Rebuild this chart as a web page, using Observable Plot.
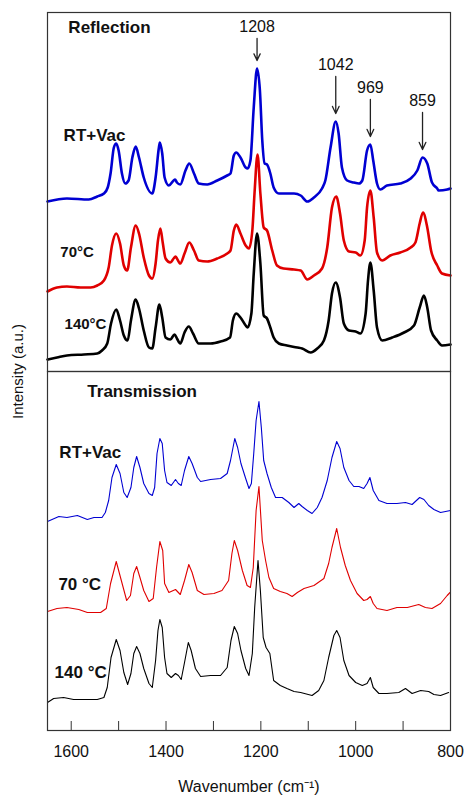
<!DOCTYPE html>
<html>
<head>
<meta charset="utf-8">
<script src="https://cdn.jsdelivr.net/npm/d3@7"></script>
<script src="https://cdn.jsdelivr.net/npm/@observablehq/plot@0.6"></script>
<style>
  html, body { margin: 0; padding: 0; background: #fff; }
  #chart { width: 464px; height: 797px; }
</style>
</head>
<body>
<div id="chart"></div>
<script>
// Panels and spectra keys
const panels = ["Reflection", "Transmission"];
const seriesKeys = ["RT+Vac", "70", "140"];
const seriesColors = ["#0000d2", "#e00000", "#000000"];
const reflectionLabels = ["RT+Vac", "70°C", "140°C"];
const transmissionLabels = ["RT+Vac", "70 °C", "140 °C"];

// x axis ticks (cm⁻¹)
const wavenumberTicks = [1600, 1500, 1400, 1300, 1200, 1100, 1000, 900, 800];
const wavenumberLabels = [1600, 1400, 1200, 1000, 800];

// Labelled reflection bands (cm⁻¹)
const bandLabels = [1208, 1042, 969, 859];

// Spectra: [wavenumber (cm⁻¹), intensity (a.u., stacked)]
const reflectionRTVac = [[1650,1.70],[1609,1.73],[1563,1.72],[1545,1.75],[1531,1.78],[1523,1.84],[1517,1.98],[1510,2.24],[1505,2.28],[1500,2.21],[1493,1.98],[1486,1.88],[1479,1.91],[1471,2.14],[1464,2.25],[1457,2.14],[1447,1.94],[1429,1.78],[1422,1.94],[1415,2.24],[1413,2.29],[1408,2.18],[1403,1.94],[1394,1.86],[1384,1.91],[1381,1.92],[1377,1.89],[1370,1.87],[1359,2.01],[1351,2.08],[1341,1.98],[1331,1.88],[1313,1.87],[1292,1.91],[1271,1.96],[1264,1.98],[1257,2.16],[1252,2.19],[1243,2.14],[1232,2.04],[1228,2.03],[1222,2.11],[1215,2.64],[1208,3.03],[1202,2.81],[1197,2.31],[1192,2.08],[1187,2.07],[1180,1.98],[1173,1.84],[1162,1.78],[1130,1.78],[1116,1.76],[1102,1.70],[1088,1.74],[1071,1.83],[1064,1.91],[1053,2.24],[1042,2.50],[1036,2.38],[1029,2.04],[1018,1.91],[1004,1.89],[993,1.88],[986,1.91],[976,2.21],[969,2.27],[963,2.11],[955,1.88],[948,1.82],[934,1.86],[906,1.88],[884,1.93],[870,2.01],[859,2.14],[849,2.08],[839,1.89],[828,1.83],[825,1.81],[807,1.82],[800,1.83]];

const reflection70 = [[1650,0.80],[1630,0.84],[1609,0.85],[1580,0.84],[1559,0.84],[1545,0.86],[1531,0.91],[1521,1.04],[1514,1.26],[1505,1.38],[1497,1.28],[1489,1.06],[1482,1.01],[1474,1.24],[1464,1.46],[1457,1.38],[1447,1.14],[1436,0.96],[1429,0.93],[1422,1.08],[1417,1.31],[1412,1.43],[1407,1.29],[1401,1.13],[1391,1.09],[1384,1.13],[1380,1.15],[1377,1.13],[1370,1.08],[1361,1.18],[1351,1.29],[1341,1.21],[1331,1.11],[1313,1.10],[1292,1.13],[1271,1.18],[1264,1.21],[1257,1.41],[1252,1.47],[1243,1.38],[1232,1.26],[1225,1.23],[1218,1.41],[1213,1.81],[1207,2.17],[1201,1.78],[1194,1.44],[1187,1.41],[1176,1.21],[1166,1.06],[1152,1.03],[1130,1.02],[1116,1.01],[1102,0.92],[1088,0.96],[1071,1.03],[1060,1.24],[1050,1.64],[1041,1.75],[1033,1.58],[1025,1.31],[1014,1.20],[1000,1.19],[990,1.16],[981,1.31],[976,1.64],[969,1.81],[962,1.54],[955,1.19],[944,1.11],[927,1.16],[906,1.19],[884,1.24],[874,1.29],[865,1.48],[858,1.59],[849,1.44],[841,1.21],[828,1.06],[818,0.98],[800,0.96]];

const reflection140 = [[1650,0.12],[1630,0.14],[1609,0.16],[1573,0.17],[1545,0.18],[1535,0.21],[1524,0.28],[1516,0.48],[1505,0.62],[1497,0.51],[1489,0.36],[1481,0.31],[1474,0.51],[1464,0.72],[1457,0.63],[1447,0.41],[1436,0.24],[1429,0.23],[1422,0.44],[1414,0.67],[1408,0.54],[1401,0.34],[1391,0.32],[1382,0.37],[1377,0.33],[1370,0.28],[1361,0.39],[1352,0.45],[1343,0.38],[1331,0.28],[1306,0.28],[1285,0.30],[1265,0.34],[1259,0.51],[1252,0.58],[1243,0.54],[1232,0.46],[1228,0.44],[1220,0.58],[1215,0.98],[1208,1.38],[1201,1.08],[1194,0.56],[1187,0.53],[1180,0.44],[1173,0.34],[1162,0.28],[1145,0.26],[1123,0.24],[1113,0.23],[1095,0.19],[1081,0.23],[1067,0.31],[1057,0.51],[1050,0.78],[1042,0.89],[1033,0.74],[1025,0.48],[1014,0.41],[1000,0.40],[990,0.38],[979,0.58],[974,0.91],[969,1.09],[962,0.81],[955,0.44],[944,0.31],[923,0.34],[898,0.39],[877,0.46],[865,0.64],[856,0.76],[849,0.64],[841,0.41],[828,0.31],[818,0.26],[800,0.27]];

const transmissionRTVac = [[1650,2.09],[1626,2.14],[1609,2.13],[1587,2.15],[1566,2.11],[1552,2.13],[1535,2.13],[1528,2.18],[1521,2.30],[1514,2.53],[1505,2.66],[1497,2.57],[1489,2.38],[1482,2.33],[1474,2.43],[1468,2.63],[1462,2.74],[1455,2.63],[1447,2.47],[1436,2.37],[1429,2.35],[1424,2.43],[1419,2.77],[1413,2.92],[1408,2.87],[1403,2.60],[1398,2.48],[1389,2.45],[1380,2.51],[1374,2.47],[1368,2.45],[1361,2.60],[1352,2.74],[1345,2.67],[1334,2.53],[1327,2.49],[1306,2.51],[1285,2.52],[1271,2.57],[1264,2.70],[1255,2.92],[1249,2.83],[1242,2.67],[1232,2.52],[1225,2.42],[1220,2.47],[1215,2.77],[1210,3.10],[1204,3.29],[1199,3.03],[1194,2.70],[1187,2.57],[1178,2.43],[1169,2.33],[1155,2.33],[1141,2.28],[1130,2.23],[1120,2.27],[1113,2.24],[1102,2.20],[1092,2.17],[1081,2.23],[1071,2.33],[1060,2.50],[1050,2.73],[1040,2.89],[1033,2.82],[1025,2.63],[1014,2.50],[1004,2.44],[993,2.44],[983,2.42],[976,2.47],[970,2.53],[963,2.40],[951,2.30],[934,2.27],[913,2.27],[895,2.28],[881,2.26],[865,2.33],[856,2.31],[846,2.25],[835,2.21],[821,2.18],[800,2.20]];

const transmission70 = [[1650,1.19],[1630,1.22],[1609,1.23],[1584,1.21],[1566,1.18],[1538,1.18],[1526,1.22],[1517,1.47],[1505,1.69],[1496,1.53],[1483,1.30],[1475,1.35],[1468,1.57],[1462,1.64],[1455,1.53],[1447,1.40],[1436,1.29],[1427,1.32],[1420,1.63],[1413,1.89],[1407,1.80],[1403,1.47],[1394,1.38],[1380,1.41],[1370,1.36],[1361,1.50],[1352,1.66],[1345,1.58],[1334,1.40],[1320,1.36],[1299,1.37],[1282,1.40],[1268,1.50],[1261,1.77],[1256,1.90],[1249,1.80],[1239,1.60],[1229,1.45],[1222,1.43],[1216,1.63],[1210,2.20],[1204,2.44],[1197,1.90],[1190,1.70],[1183,1.53],[1173,1.42],[1159,1.39],[1145,1.37],[1134,1.34],[1123,1.38],[1109,1.42],[1088,1.45],[1067,1.52],[1057,1.67],[1050,1.83],[1040,2.02],[1032,1.83],[1022,1.65],[1011,1.50],[997,1.37],[983,1.30],[976,1.31],[969,1.34],[963,1.27],[955,1.22],[934,1.20],[913,1.23],[891,1.23],[867,1.26],[853,1.23],[839,1.22],[821,1.27],[807,1.35],[801,1.38]];

const transmission140 = [[1650,0.28],[1637,0.32],[1616,0.33],[1595,0.31],[1570,0.31],[1545,0.31],[1531,0.33],[1524,0.43],[1516,0.73],[1505,0.91],[1497,0.80],[1489,0.58],[1481,0.46],[1474,0.57],[1468,0.77],[1462,0.84],[1455,0.77],[1447,0.62],[1436,0.47],[1429,0.43],[1422,0.70],[1417,1.00],[1413,1.11],[1408,1.03],[1403,0.73],[1398,0.57],[1389,0.53],[1380,0.57],[1374,0.55],[1368,0.51],[1361,0.68],[1353,0.88],[1347,0.80],[1338,0.62],[1327,0.54],[1306,0.55],[1285,0.55],[1271,0.63],[1263,0.90],[1256,1.04],[1249,0.97],[1242,0.80],[1232,0.62],[1225,0.55],[1218,0.77],[1213,1.23],[1206,1.70],[1201,1.40],[1195,0.93],[1189,0.83],[1181,0.77],[1173,0.50],[1159,0.45],[1145,0.42],[1130,0.39],[1116,0.38],[1092,0.35],[1078,0.40],[1067,0.50],[1057,0.73],[1046,0.95],[1040,1.00],[1033,0.93],[1025,0.70],[1014,0.55],[1000,0.48],[986,0.45],[976,0.47],[969,0.53],[963,0.43],[951,0.37],[934,0.37],[909,0.38],[895,0.42],[881,0.37],[863,0.40],[846,0.39],[835,0.36],[821,0.35],[804,0.38]];

// Long-format rows for the line marks
const spectra = [
  {panel: "Reflection", key: "RT+Vac", values: reflectionRTVac},
  {panel: "Reflection", key: "70", values: reflection70},
  {panel: "Reflection", key: "140", values: reflection140},
  {panel: "Transmission", key: "RT+Vac", values: transmissionRTVac},
  {panel: "Transmission", key: "70", values: transmission70},
  {panel: "Transmission", key: "140", values: transmission140}
];
const rows = spectra.flatMap(s =>
  s.values.map(([wn, a]) => ({panel: s.panel, key: s.key, id: s.panel + s.key, wn, a}))
);

// Arrows sit just above the RT+Vac reflection peak of each labelled band
const yTop = 3.59;
const bands = bandLabels.map(wn => {
  const peak = d3.max(reflectionRTVac.filter(([w]) => Math.abs(w - wn) <= 6), d => d[1]);
  const tip = peak + 0.08;
  const tail = Math.min(tip + 0.37, yTop - 0.26);
  return {wn, tip, tail, label: tail + 0.07};
});

// Series label placement (wavenumber, a.u.) and font size
const labelPlacement = {
  Reflection: [[1616, 2.31, 17], [1623, 1.15, 15], [1614, 0.43, 15]],
  Transmission: [[1625, 2.73, 17], [1627, 1.41, 17], [1635, 0.53, 17]]
};
const seriesLabelRows = [
  ...reflectionLabels.map((t, i) => {
    const [x, y, size] = labelPlacement.Reflection[i];
    return {panel: "Reflection", text: t, x, y, size};
  }),
  ...transmissionLabels.map((t, i) => {
    const [x, y, size] = labelPlacement.Transmission[i];
    return {panel: "Transmission", text: t, x, y, size};
  })
];
const panelTitles = [
  {panel: "Reflection", text: "Reflection", x: 1606, y: 3.39},
  {panel: "Transmission", text: "Transmission", x: 1566, y: 3.34}
];

const font = "'Liberation Sans', Arial, Helvetica, sans-serif";
const boldLabel = size => Plot.text(seriesLabelRows.filter(d => d.size === size), {
  x: "x", y: "y", text: "text", fy: "panel",
  textAnchor: "start", lineAnchor: "bottom", fontSize: size, fontWeight: "bold", fill: "#111"
});

const chart = Plot.plot({
  width: 464,
  height: 797,
  marginLeft: 47,
  marginRight: 14,
  marginTop: 12,
  marginBottom: 67,
  style: {fontFamily: font, fontSize: "15px", color: "#111", background: "#fff"},
  x: {domain: [1650, 800]},
  y: {domain: [0, yTop], axis: null},
  fy: {domain: panels, padding: 0, axis: null},
  color: {domain: seriesKeys, range: seriesColors},
  marks: [
    Plot.line(rows.filter(r => r.panel === "Reflection"), {
      x: "wn", y: "a", z: "id", stroke: "key", fy: "panel",
      strokeWidth: 2.6, curve: "monotone-x", strokeLinejoin: "round"
    }),
    Plot.line(rows.filter(r => r.panel === "Transmission"), {
      x: "wn", y: "a", z: "id", stroke: "key", fy: "panel",
      strokeWidth: 1.1
    }),
    Plot.arrow(bands, {
      x: "wn", y1: "tail", y2: "tip", fy: () => "Reflection",
      stroke: "#222", strokeWidth: 1.3, headLength: 9, headAngle: 50
    }),
    Plot.text(bands, {
      x: "wn", y: "label", text: d => String(d.wn), fy: () => "Reflection",
      lineAnchor: "bottom", fontSize: 16, fill: "#111"
    }),
    Plot.text(panelTitles, {
      x: "x", y: "y", text: "text", fy: "panel",
      textAnchor: "start", lineAnchor: "bottom", fontSize: 17, fontWeight: "bold", fill: "#111"
    }),
    boldLabel(15),
    boldLabel(17),
    Plot.frame({stroke: "#333", strokeWidth: 1.2}),
    Plot.axisX({
      ticks: wavenumberTicks,
      tickSize: -9,
      tickPadding: 24,
      tickFormat: d => wavenumberLabels.includes(d) ? String(d) : "",
      fontSize: 16,
      stroke: "#333",
      label: null
    }),
    Plot.text(["Wavenumber (cm⁻¹)"], {
      text: d => d, fy: () => "Transmission", frameAnchor: "bottom",
      dy: 61, lineAnchor: "bottom", fontSize: 16, fill: "#111"
    }),
    Plot.text(["Intensity (a.u.)"], {
      text: d => d, fy: () => "Reflection", frameAnchor: "bottom-left",
      dx: -29, rotate: -90, textAnchor: "middle", lineAnchor: "middle", fontSize: 15, fill: "#111"
    })
  ]
});

document.getElementById("chart").appendChild(chart);
</script>
</body>
</html>
